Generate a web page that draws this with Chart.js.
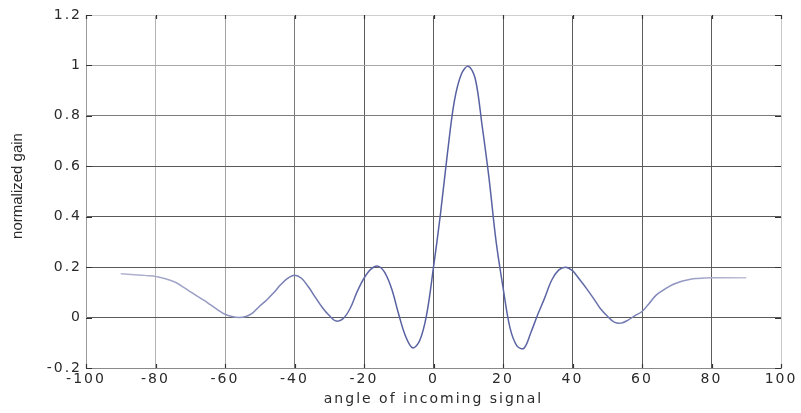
<!DOCTYPE html>
<html>
<head>
<meta charset="utf-8">
<script src="https://cdn.jsdelivr.net/npm/chart.js@4.4.1/dist/chart.umd.min.js"></script>
<style>
  html, body { margin: 0; padding: 0; background: #fff; }
  canvas { display: block; }
</style>
</head>
<body>
<canvas id="c" width="801" height="413"></canvas>
<script>
// Beam pattern of the array, steered towards +10 degrees
const angles = [
  -90, -88, -86, -84, -82, -80, -78, -76, -74, -72, -70, -68, -66, -64, -62,
  -60, -58, -56, -54, -52, -50, -48, -46, -44, -42, -40, -38, -36, -34, -32,
  -30, -28, -26, -24, -22, -20, -18, -16, -14, -12, -10, -8, -6, -4, -2,
  0, 2, 4, 6, 8, 10, 12, 14, 16, 18, 20, 22, 24, 26, 28,
  30, 32, 34, 36, 38, 40, 42, 44, 46, 48, 50, 52, 54, 56, 58,
  60, 62, 64, 66, 68, 70, 72, 74, 76, 78, 80, 82, 84, 86, 88, 90
];
const gains = [
  0.174, 0.172, 0.170, 0.168, 0.166, 0.163, 0.157, 0.149, 0.138, 0.121, 0.103, 0.085, 0.068, 0.049, 0.030,
  0.013, 0.004, 0.000, 0.004, 0.019, 0.046, 0.070, 0.098, 0.130, 0.155, 0.168, 0.156, 0.122, 0.080, 0.040,
  0.008, -0.014, -0.004, 0.036, 0.102, 0.156, 0.192, 0.204, 0.178, 0.112, 0.012, -0.075, -0.120, -0.092, 0.010,
  0.200, 0.410, 0.650, 0.858, 0.965, 0.997, 0.948, 0.760, 0.550, 0.303, 0.120, -0.040, -0.112, -0.122, -0.060,
  0.012, 0.078, 0.148, 0.188, 0.200, 0.186, 0.152, 0.116, 0.077, 0.036, 0.006, -0.018, -0.022, -0.010, 0.008,
  0.024, 0.055, 0.088, 0.108, 0.125, 0.137, 0.146, 0.152, 0.155, 0.157, 0.158, 0.158, 0.158, 0.158, 0.158, 0.158
];
const xTickValues = [-100, -80, -60, -40, -20, 0, 20, 40, 60, 80, 100];
const yTickValues = [-0.2, 0, 0.2, 0.4, 0.6, 0.8, 1, 1.2];
const xTitle = 'angle of incoming signal';
const yTitle = 'normalized gain';

const FONT = "'DejaVu Sans', 'Liberation Sans', Arial, sans-serif";
const TITLE_FONT = "'Liberation Sans', Arial, Helvetica, sans-serif";
const TEXT = '#2a2a2a';

// grid shades (lighter towards the upper left of the plot box)
function xGridShade(v) {
  if (v === -100) return '#9a9a9a';
  if (v === 100) return '#c8c8c8';
  if (v === -80) return '#b4b4b4';
  if (v === -60) return '#a4a4a4';
  if (v === -40) return '#7a7a7a';
  return '#5c5c5c';
}
function yGridShade(v) {
  if (v >= 1.15) return '#cfcfcf';
  if (v >= 0.95) return '#a8a8a8';
  if (v >= 0.75) return '#7c7c7c';
  if (v <= -0.15) return '#8a8a8a';
  return '#5a5a5a';
}

function lineStroke(context) {
  const chart = context.chart;
  const area = chart.chartArea;
  if (!area) return 'rgb(95,105,165)';
  const g = chart.ctx.createLinearGradient(area.left, 0, area.right, 0);
  g.addColorStop(0.05, 'rgb(178,181,207)');
  g.addColorStop(0.22, 'rgb(140,146,190)');
  g.addColorStop(0.32, 'rgb(110,118,175)');
  g.addColorStop(0.45, 'rgb(85,95,160)');
  g.addColorStop(0.70, 'rgb(92,102,165)');
  g.addColorStop(0.82, 'rgb(130,137,185)');
  g.addColorStop(0.95, 'rgb(190,193,215)');
  return g;
}

// wide lettering for the axis texts
const spacing = {
  id: 'spacing',
  beforeUpdate(chart) { chart.ctx.letterSpacing = '2px'; },
  beforeDraw(chart) { chart.ctx.letterSpacing = '2px'; }
};

// short tick marks on all four sides of the box, plus the vertical axis title
const boxDecor = {
  id: 'boxDecor',
  afterDraw(chart) {
    const { ctx, chartArea: a, scales: { x, y } } = chart;
    ctx.save();
    ctx.letterSpacing = '0px';
    ctx.strokeStyle = '#333';
    ctx.lineWidth = 1.2;
    ctx.beginPath();
    for (const v of xTickValues) {
      const px = Math.round(x.getPixelForValue(v)) + 0.5;
      ctx.moveTo(px, a.bottom); ctx.lineTo(px, a.bottom - 4);
      ctx.moveTo(px, a.top); ctx.lineTo(px, a.top + 4);
    }
    for (const v of yTickValues) {
      const py = Math.round(y.getPixelForValue(v)) + 0.5;
      ctx.moveTo(a.left, py); ctx.lineTo(a.left + 6, py);
      ctx.moveTo(a.right, py); ctx.lineTo(a.right - 6, py);
    }
    ctx.stroke();

    ctx.fillStyle = TEXT;
    ctx.font = '15px ' + TITLE_FONT;
    ctx.textAlign = 'center';
    ctx.textBaseline = 'middle';
    ctx.translate(18, 186);
    ctx.rotate(-Math.PI / 2);
    ctx.fillText(yTitle, 0, 0);
    ctx.restore();
  }
};

new Chart(document.getElementById('c'), {
  type: 'line',
  data: {
    datasets: [{
      data: angles.map((a, i) => ({ x: a, y: gains[i] })),
      borderColor: lineStroke,
      borderWidth: 1.5,
      pointRadius: 0,
      fill: false,
      tension: 0.35
    }]
  },
  options: {
    responsive: false,
    animation: false,
    events: [],
    layout: { padding: { top: 15, right: 20, bottom: 0, left: 0 } },
    plugins: { legend: { display: false }, tooltip: { enabled: false } },
    scales: {
      x: {
        type: 'linear',
        min: -100,
        max: 100,
        afterBuildTicks: s => { s.ticks = xTickValues.map(v => ({ value: v })); },
        afterFit: s => { s.height = 45; },
        ticks: {
          padding: 3,
          color: TEXT,
          font: { family: FONT, size: 14 },
          maxRotation: 0,
          autoSkip: false,
          callback: v => String(v)
        },
        grid: {
          drawTicks: false,
          color: c => xGridShade(c.tick ? c.tick.value : 0),
          lineWidth: 1
        },
        border: { display: true, color: '#8a8a8a', width: 1 },
        title: {
          display: true,
          text: xTitle,
          color: TEXT,
          font: { family: FONT, size: 14 },
          padding: { top: 0, bottom: 5 }
        }
      },
      y: {
        min: -0.2,
        max: 1.2,
        afterBuildTicks: s => { s.ticks = yTickValues.map(v => ({ value: v })); },
        afterFit: s => { s.width = 86; },
        ticks: {
          padding: 4,
          color: TEXT,
          font: { family: FONT, size: 14 },
          autoSkip: false,
          callback: v => String(v)
        },
        grid: {
          drawTicks: false,
          color: c => yGridShade(c.tick ? c.tick.value : 0),
          lineWidth: 1
        },
        border: { display: true, color: '#9a9a9a', width: 1 }
      }
    }
  },
  plugins: [spacing, boxDecor]
});
</script>
</body>
</html>
